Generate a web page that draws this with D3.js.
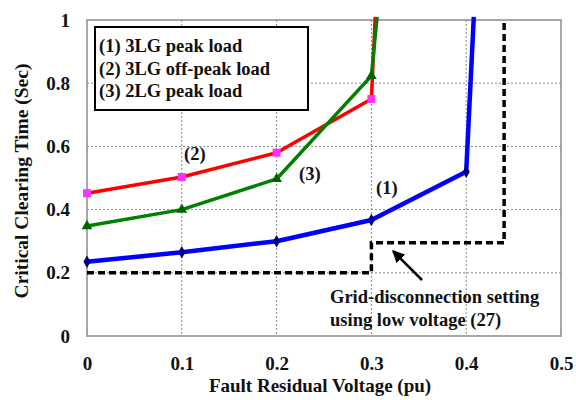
<!DOCTYPE html>
<html><head><meta charset="utf-8">
<script src="https://cdn.jsdelivr.net/npm/d3@7"></script>
<style>
body{margin:0;background:#fff;}
text{font-family:"Liberation Serif","Times New Roman",serif;font-weight:bold;fill:#111;}
</style></head><body>
<svg id="c" width="576" height="400"></svg>
<script>
const xTicks = [0, 0.1, 0.2, 0.3, 0.4, 0.5];
const yTicks = [0, 0.2, 0.4, 0.6, 0.8, 1];
const xTickLabels = ["0", "0.1", "0.2", "0.3", "0.4", "0.5"];
const yTickLabels = ["0", "0.2", "0.4", "0.6", "0.8", "1"];

// (1) 3LG peak load
const s1x = [0, 0.1, 0.2, 0.3, 0.4, 0.408];
const s1y = [0.235, 0.265, 0.30, 0.367, 0.52, 1.01];
// (2) 3LG off-peak load
const s2x = [0, 0.1, 0.2, 0.3, 0.304];
const s2y = [0.452, 0.503, 0.58, 0.75, 1.01];
// (3) 2LG peak load
const s3x = [0, 0.1, 0.2, 0.3, 0.306];
const s3y = [0.348, 0.40, 0.497, 0.823, 1.01];
// Grid-disconnection setting (27)
const gx = [0, 0.3, 0.3, 0.44, 0.44];
const gy = [0.2, 0.2, 0.295, 0.295, 1.0];

const legendLabels = ["(1) 3LG peak load", "(2) 3LG off-peak load", "(3) 2LG peak load"];

const svg = d3.select("#c");
const L = 87, R = 561, T = 20, B = 336;
const x = d3.scaleLinear().domain([0, 0.5]).range([L, R]);
const y = d3.scaleLinear().domain([0, 1]).range([B, T]);

// grid
const g = svg.append("g");
g.selectAll(".vg").data(xTicks.slice(1, -1)).enter().append("line")
  .attr("x1", d => x(d)).attr("x2", d => x(d)).attr("y1", T).attr("y2", B)
  .attr("stroke", "#888").attr("stroke-width", 1).attr("stroke-dasharray", "2,2");
g.selectAll(".hg").data(yTicks.slice(1, -1)).enter().append("line")
  .attr("y1", d => y(d)).attr("y2", d => y(d)).attr("x1", L).attr("x2", R)
  .attr("stroke", "#888").attr("stroke-width", 1).attr("stroke-dasharray", "2,2");

// frame
svg.append("rect").attr("x", L).attr("y", T).attr("width", R - L).attr("height", B - T)
  .attr("fill", "none").attr("stroke", "#8a8a8a").attr("stroke-width", 1.5);

// axes labels via d3 axes
const xAxis = d3.axisBottom(x).tickValues(xTicks).tickFormat((d, i) => xTickLabels[i]).tickSize(0).tickPadding(0);
const xa = svg.append("g").attr("transform", `translate(0,${B + 20})`).call(xAxis);
xa.select(".domain").remove();
xa.selectAll("text").attr("font-size", 19).attr("font-family", "Liberation Serif").attr("font-weight", "bold").attr("fill", "#111");

const yAxis = d3.axisLeft(y).tickValues(yTicks).tickFormat((d, i) => yTickLabels[i]).tickSize(0).tickPadding(0);
const ya = svg.append("g").attr("transform", `translate(${L - 17},0)`).call(yAxis);
ya.select(".domain").remove();
ya.selectAll("text").attr("font-size", 19).attr("font-family", "Liberation Serif").attr("font-weight", "bold").attr("fill", "#111");

// axis titles
svg.append("text").attr("x", 320).attr("y", 392).attr("text-anchor", "middle").attr("font-size", 19)
  .text("Fault Residual Voltage (pu)");
svg.append("text").attr("transform", "translate(28,181) rotate(-90)").attr("text-anchor", "middle").attr("font-size", 19.5)
  .text("Critical Clearing Time (Sec)");

// grid-disconnection dashed line
const line = d3.line().x(d => x(d[0])).y(d => y(d[1]));
svg.append("path").datum(d3.zip(gx, gy)).attr("d", line).attr("fill", "none")
  .attr("stroke", "#000").attr("stroke-width", 3.5).attr("stroke-dasharray", "7,4");

// series
function series(xs, ys, color, w) {
  svg.append("path").datum(d3.zip(xs, ys)).attr("d", line).attr("fill", "none")
    .attr("stroke", color).attr("stroke-width", w).attr("stroke-linejoin", "round");
}
series(s1x, s1y, "#0000ff", 4.5);
series(s2x, s2y, "#ff0000", 3.5);
series(s3x, s3y, "#008000", 3.5);

// markers
const pts1 = d3.zip(s1x, s1y).slice(0, 5);
svg.selectAll(".m1").data(pts1).enter().append("path")
  .attr("transform", d => `translate(${x(d[0])},${y(d[1])})`)
  .attr("d", d3.symbol(d3.symbolDiamond, 45)).attr("fill", "#000080");
const pts2 = d3.zip(s2x, s2y).slice(0, 4);
svg.selectAll(".m2").data(pts2).enter().append("rect")
  .attr("x", d => x(d[0]) - 4).attr("y", d => y(d[1]) - 4).attr("width", 8).attr("height", 8)
  .attr("fill", "#ff33ff");
const pts3 = d3.zip(s3x, s3y).slice(0, 4);
svg.selectAll(".m3").data(pts3).enter().append("path")
  .attr("transform", d => `translate(${x(d[0])},${y(d[1])})`)
  .attr("d", d3.symbol(d3.symbolTriangle, 50)).attr("fill", "#006400");

// curve annotations
svg.append("text").attr("x", 184).attr("y", 160).attr("font-size", 18.5).text("(2)");
svg.append("text").attr("x", 299).attr("y", 180).attr("font-size", 18.5).text("(3)");
svg.append("text").attr("x", 376).attr("y", 194).attr("font-size", 18.5).text("(1)");

// arrow
svg.append("defs").append("marker").attr("id", "ah").attr("viewBox", "0 0 10 10")
  .attr("refX", 9).attr("refY", 5).attr("markerWidth", 5).attr("markerHeight", 5).attr("orient", "auto")
  .append("path").attr("d", "M0,0 L10,5 L0,10 z").attr("fill", "#000");
svg.append("line").attr("x1", 422).attr("y1", 280).attr("x2", 393).attr("y2", 251)
  .attr("stroke", "#000").attr("stroke-width", 2.5).attr("marker-end", "url(#ah)");
svg.append("text").attr("x", 330).attr("y", 303).attr("font-size", 18.5).text("Grid-disconnection setting");
svg.append("text").attr("x", 330).attr("y", 326).attr("font-size", 18.5).text("using low voltage (27)");

// legend
svg.append("rect").attr("x", 95).attr("y", 27).attr("width", 213).attr("height", 83)
  .attr("fill", "#fff").attr("stroke", "#000").attr("stroke-width", 2);
svg.selectAll(".lg").data(legendLabels).enter().append("text")
  .attr("x", 99).attr("y", (d, i) => 52 + i * 22.5).attr("font-size", 18.5).text(d => d);
</script>
</body></html>
